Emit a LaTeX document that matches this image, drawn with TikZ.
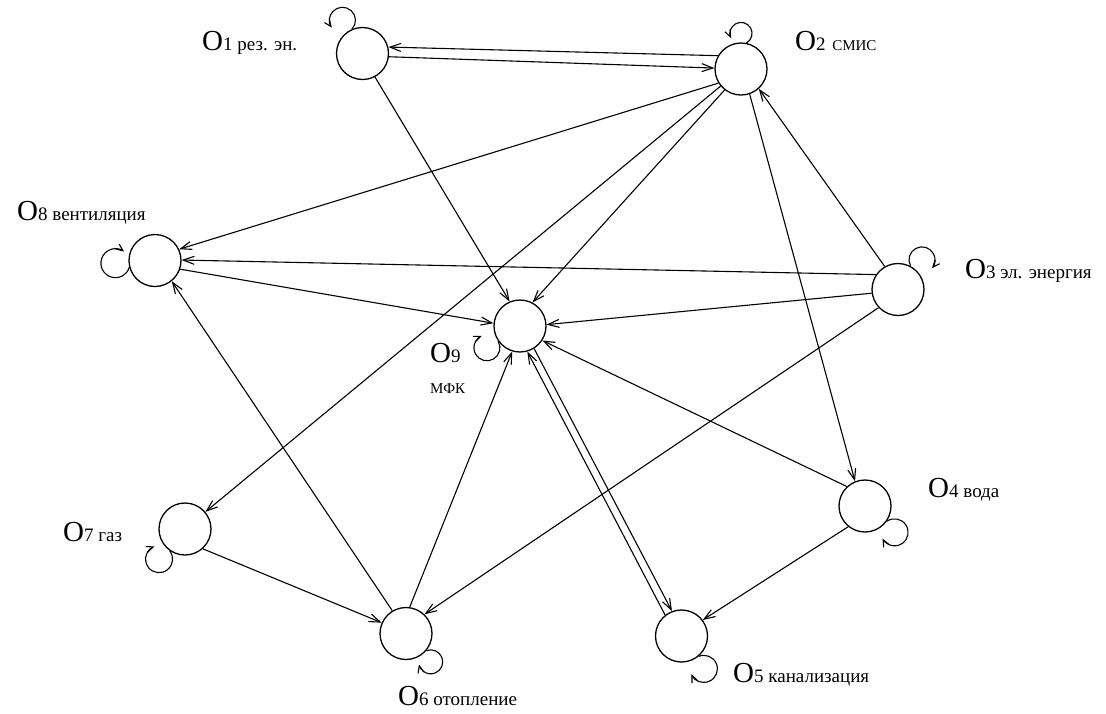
\documentclass[tikz,border=0pt]{standalone}
\usepackage{fontspec}
\setmainfont{Liberation Serif}
\usetikzlibrary{arrows.meta}
\newcommand\myO{\fontsize{29}{30}\selectfont O}
\newcommand\mysm{\fontsize{19}{20}\selectfont}
\newcommand\mycap{\fontsize{15}{16}\selectfont}
\begin{document}
\begin{tikzpicture}[x=1pt,y=-1pt,
  vert/.style={circle, draw, line width=1.3pt, minimum size=52pt, inner sep=0pt},
  edge/.style={line width=1.1pt, -{Straight Barb[length=11pt,width=8pt,line width=1.1pt]}},
  selfloop/.style={line width=1.1pt, -{Straight Barb[length=7pt,width=6pt,line width=1.1pt]}},
  lbl/.style={anchor=base west, inner sep=0pt, font=\rmfamily},
  lble/.style={anchor=base east, inner sep=0pt, font=\rmfamily},
]
\useasboundingbox (0,0) rectangle (1106,713);
% vertices
\node[vert] (o1) at (362.5,53.5) {};
\node[vert] (o2) at (741,69) {};
\node[vert] (o3) at (898,289.5) {};
\node[vert] (o4) at (865,506) {};
\node[vert] (o5) at (681.5,636) {};
\node[vert] (o6) at (406,633.5) {};
\node[vert] (o7) at (185,529) {};
\node[vert] (o8) at (155,260.5) {};
\node[vert] (o9) at (520,326) {};
% edges
\draw[edge] (o2.150) -- (o1.14.5);
\draw[edge] (o1.-7.7) -- (o2.178);
\draw[edge] (o1.-62.5) -- (o9.113);
\draw[edge] (o2.-148.7) -- (o8.25.7);
\draw[edge] (o2.-140) -- (o7.40);
\draw[edge] (o2.-128) -- (o9.62);
\draw[edge] (o2.-71.6) -- (o4.112.5);
\draw[edge] (o3.120) -- (o2.-48);
\draw[edge] (o3.146) -- (o8.1);
\draw[edge] (o3.188) -- (o9.3);
\draw[edge] (o3.223) -- (o6.46);
\draw[edge] (o8.-19.4) -- (o9.174);
\draw[edge] (o6.121) -- (o8.-51.7);
\draw[edge] (o6.82) -- (o9.-107);
\draw[edge] (o7.-48) -- (o6.156);
\draw[edge] (o5.128) -- (o9.-74);
\draw[edge] (o9.-58) -- (o5.111);
\draw[edge] (o4.133.6) -- (o9.-33);
\draw[edge] (o4.-129.3) -- (o5.37.5);
% self loops
\draw[selfloop] (o1.113) arc[start angle=-42, end angle=215, radius=13pt];
\draw[selfloop] (o2.78) arc[start angle=-60, end angle=205, radius=11pt];
\draw[selfloop] (o3.62) arc[start angle=208, end angle=-40, radius=13pt];
\draw[selfloop] (o4.-35) arc[start angle=125, end angle=-153, radius=13.5pt];
\draw[selfloop] (o5.-50) arc[start angle=113, end angle=-157, radius=13.5pt];
\draw[selfloop] (o6.-40) arc[start angle=111, end angle=-167, radius=12pt];
\draw[selfloop] (o7.-125) arc[start angle=38, end angle=-250, radius=13.5pt];
\draw[selfloop] (o8.-165) arc[start angle=-17, end angle=-307, radius=14.5pt];
\draw[selfloop] (o9.-145) arc[start angle=30, end angle=-247, radius=13pt];
% labels
\node[lbl] (t1) at (202,50) {\myO\mysm 1 рез. эн.};
\node[lbl] (t2) at (795,50) {\myO\mysm 2\hspace{0.35em}\mycap СМИС};
\node[lbl] (t3) at (965,278) {\myO\mysm 3 эл. энергия};
\node[lbl] (t4) at (928,497) {\myO\mysm 4 вода};
\node[lbl] (t5) at (733,682) {\myO\mysm 5 канализация};
\node[lbl] (t6) at (398,705) {\myO\mysm 6 отопление};
\node[lbl] (t7) at (63,541) {\myO\mysm 7 газ};
\node[lbl] (t8) at (17,220) {\myO\mysm 8 вентиляция};
\node[lbl] (t9) at (430,362) {\myO\mysm 9};
\node[lbl] (t9b) at (430,393) {\mycap МФК};
\end{tikzpicture}
\end{document}
